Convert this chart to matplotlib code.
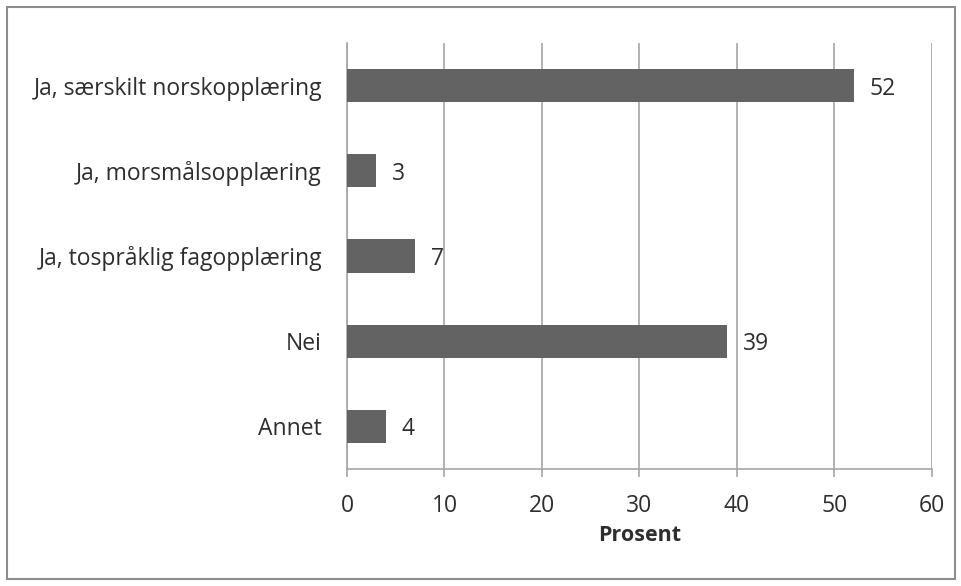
import matplotlib.pyplot as plt
from matplotlib.patches import Rectangle

# svaralternativer og andel i prosent
categories = ['Ja, særskilt norskopplæring', 'Ja, morsmålsopplæring',
              'Ja, tospråklig fagopplæring', 'Nei', 'Annet']
values = [52, 3, 7, 39, 4]
x_ticks = [0, 10, 20, 30, 40, 50, 60]

plt.rcParams['font.family'] = ['Open Sans', 'DejaVu Sans']

fig = plt.figure(figsize=(9.62, 5.86), dpi=100)
ax = fig.add_axes([0.3607, 0.1997, 0.6081, 0.7269])

grid_col = '#a6a6a6'
bar_col = '#636363'
text_col = '#2e2e2e'
fs = 16.5

pos = list(range(len(categories)))
ax.barh(pos, values, height=0.39, color=bar_col, zorder=3)

for p, v in zip(pos, values):
    ax.text(v + 1.6, p, str(v), va='center_baseline', ha='left', fontsize=fs,
            color=text_col)

ax.set_xlim(0, 60)
ax.set_ylim(len(categories) - 0.5, -0.5)
ax.set_xticks(x_ticks)
ax.set_yticks(pos)
ax.set_yticklabels(categories, va='center_baseline')
ax.xaxis.grid(True, color=grid_col, linewidth=1.2, zorder=0)

for side in ['top', 'right']:
    ax.spines[side].set_visible(False)
for side in ['left', 'bottom']:
    ax.spines[side].set_color(grid_col)
    ax.spines[side].set_linewidth(1.2)

ax.tick_params(axis='x', length=6, width=1.2, color=grid_col, labelsize=fs,
               labelcolor=text_col, pad=12)
ax.tick_params(axis='y', length=0, labelsize=fs, labelcolor=text_col, pad=18)

ax.set_xlabel('Prosent', fontsize=15.5, fontweight='bold', color=text_col,
              labelpad=5)

# ramme rundt hele figuren
fig.patches.append(Rectangle((0.0075, 0.012), 0.985, 0.976,
                             transform=fig.transFigure, fill=False,
                             edgecolor='#8c8c8c', linewidth=1.5))

fig.savefig('out.png', dpi=100)
